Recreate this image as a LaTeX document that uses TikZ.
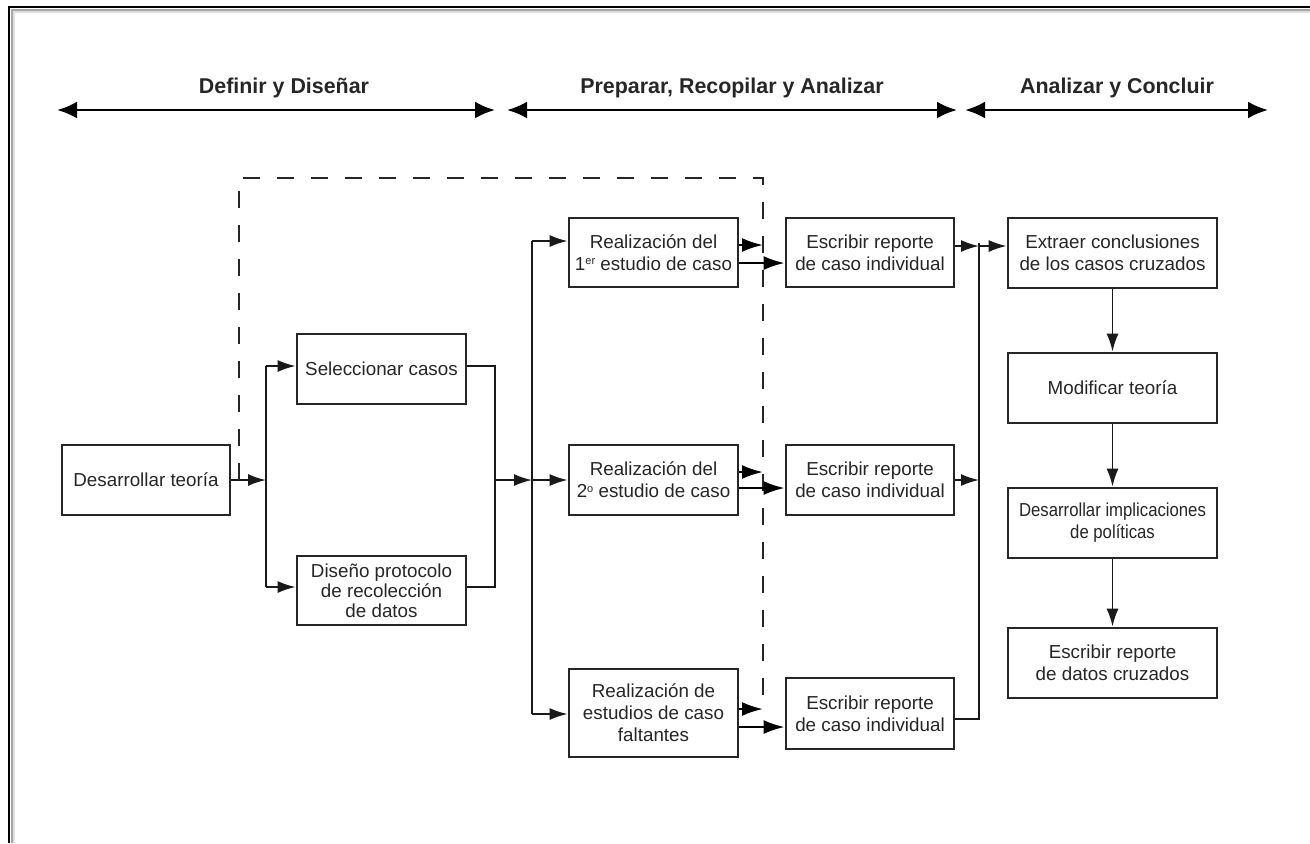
\documentclass[tikz,border=0pt]{standalone}
\usepackage{graphicx}
\usepackage{fontspec}
\setmainfont{Liberation Sans}
\usetikzlibrary{arrows.meta,calc}
\newcommand{\ordsup}[1]{\raisebox{0.55ex}{\fontsize{5.5}{6}\selectfont #1}}
\newcommand{\narrow}[1]{\scalebox{0.89}[1]{#1}}
\begin{document}
\begin{tikzpicture}[x=0.5pt,y=-0.5pt,
  box/.style={draw=black!85, line width=1.35pt, align=center, inner sep=0pt,
    text=black!85, font=\fontsize{9.4}{11}\selectfont},
  sbox/.style={box, minimum width=84.5pt, minimum height=35pt},
  cbox/.style={box, minimum width=104.5pt, minimum height=35pt},
  link/.style={line width=0.95pt, draw=black!90},
  arr/.style={link, -{Latex[length=9pt,width=6pt]}},
  bigarr/.style={line width=1.2pt, -{Latex[length=10.5pt,width=7pt]}},
  feedback/.style={line width=1.25pt, draw=black!85, dash pattern=on 8.5pt off 8.5pt},
  phase/.style={line width=1.4pt, {Latex[length=10pt,width=8.5pt]}-{Latex[length=10pt,width=8.5pt]}},
  phasetitle/.style={font=\fontsize{10.7}{12}\selectfont\bfseries, text=black!85}
]
\useasboundingbox (0,0) rectangle (1310,843);
\fill[white] (0,0) rectangle (1310,843);

% sheet edge with a soft shadow
\draw[black!12, line width=1pt] (13.5,843) -- (13.5,11.5) -- (1310,11.5);
\draw[black!35, line width=1pt] (11.5,843) -- (11.5,9.5) -- (1310,9.5);
\draw[black, line width=1.4pt] (9,843) -- (9,7) -- (1310,7);

% phase headings
\coordinate (p1l) at (57,110);  \coordinate (p1r) at (495,110);
\coordinate (p2l) at (507,110); \coordinate (p2r) at (957,110);
\coordinate (p3l) at (965,110); \coordinate (p3r) at (1268,110);
\draw[phase] (p1l) -- (p1r);
\draw[phase] (p2l) -- (p2r);
\draw[phase] (p3l) -- (p3r);
\node[phasetitle] (t1) at (284,88) {Definir y Diseñar};
\node[phasetitle] (t2) at (732,88) {Preparar, Recopilar y Analizar};
\node[phasetitle] (t3) at (1117,88) {Analizar y Concluir};

% boxes
\node[sbox, minimum width=84pt] (des) at (146,480) {Desarrollar teoría};
\node[sbox] (sel) at (381.5,369) {Seleccionar casos};
\node[sbox, minimum height=34.5pt, font=\fontsize{9.4}{10}\selectfont] (dis) at (381.5,590.5)
  {Diseño protocolo\\de recolección\\de datos};
\node[sbox, minimum height=34.5pt] (r1) at (653.5,252.5)
  {Realización del\\1\ordsup{er} estudio de caso};
\node[sbox] (r2) at (653.5,480)
  {Realización del\\2\ordsup{o} estudio de caso};
\node[sbox, minimum height=44pt] (r3) at (653.5,713)
  {Realización de\\estudios de caso\\faltantes};
\node[sbox, minimum width=84pt, minimum height=34.5pt] (e1) at (870,252.5)
  {Escribir reporte\\de caso individual};
\node[sbox, minimum width=84pt] (e2) at (870,480)
  {Escribir reporte\\de caso individual};
\node[sbox, minimum width=84pt, minimum height=35.5pt] (e3) at (870,713.5)
  {Escribir reporte\\de caso individual};
\node[cbox] (x1) at (1112.5,253) {Extraer conclusiones\\de los casos cruzados};
\node[cbox] (x2) at (1112.5,388) {Modificar teoría};
\node[cbox] (x3) at (1112.5,523)
  {\narrow{Desarrollar implicaciones}\\\narrow{de políticas}};
\node[cbox] (x4) at (1112.5,663) {Escribir reporte\\de datos cruzados};

% junction points
\coordinate (ja) at (266,366);
\coordinate (jb) at (266,587);
\coordinate (ka) at (495,366);
\coordinate (kb) at (495,587);
\coordinate (la) at (532,241);
\coordinate (lb) at (532,714);
\coordinate (ma) at (979,246);
\coordinate (mb) at (979,719);
\coordinate (dl) at (239,178);
\coordinate (dr) at (763,178);

% design stage
\draw[arr] (des.east) -- (des.east -| ja);
\draw[link] (ja) -- (jb);
\draw[arr] (ja) -- (ja -| sel.west);
\draw[arr] (jb) -- (jb -| dis.west);
\draw[link] (ka -| sel.east) -- (ka) -- (kb) -- (kb -| dis.east);
\draw[arr] (ka |- r2.west) -- (la |- r2.west);

% case studies
\draw[link] (la) -- (lb);
\draw[arr] (la) -- (la -| r1.west);
\draw[arr] (la |- r2.west) -- (r2.west);
\draw[arr] (lb) -- (lb -| r3.west);

% feedback loop
\coordinate (f1) at ([yshift=3.75pt]r1.east);
\coordinate (f2) at ([yshift=4pt]r2.east);
\coordinate (f3) at ([yshift=2pt]r3.east);
\draw[feedback] (dl |- des.east) -- (dl) -- (dr) -- (dr |- f3);
\draw[bigarr] (f1) -- (f1 -| dr);
\draw[bigarr] (f2) -- (f2 -| dr);
\draw[bigarr] (f3) -- (f3 -| dr);

% individual reports
\coordinate (g1) at ([yshift=-5.25pt]r1.east);
\coordinate (g2) at ([yshift=-4pt]r2.east);
\coordinate (g3) at ([yshift=-7pt]r3.east);
\draw[bigarr] (g1) -- (g1 -| e1.west);
\draw[bigarr] (g2) -- (g2 -| e2.west);
\draw[bigarr] (g3) -- (g3 -| e3.west);

% cross-case stage
\draw[arr] (ma -| e1.east) -- (ma);
\draw[arr] (e2.east) -- (e2.east -| ma);
\draw[link] (mb -| e3.east) -- (mb) -- ([yshift=1.5pt]ma);
\draw[arr] (ma) -- (ma -| x1.west);
\draw[arr] (x1) -- (x2);
\draw[arr] (x2) -- (x3);
\draw[arr] (x3) -- (x4);
\end{tikzpicture}
\end{document}
